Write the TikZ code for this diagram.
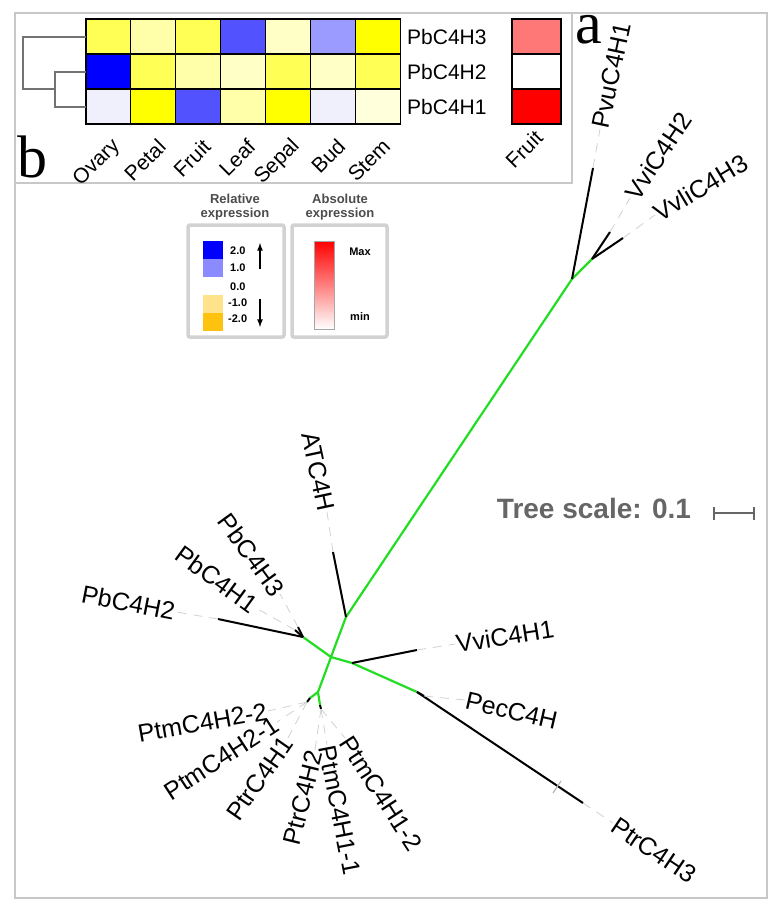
\documentclass[tikz,border=0pt]{standalone}
\usepackage{fontspec}
\setmainfont{Liberation Sans}
\newfontfamily\panelfont{Liberation Serif}
\usepackage{xcolor}

\definecolor{framegray}{HTML}{C8C8C8}
\definecolor{boxgray}{HTML}{D2D2D2}
\definecolor{treegreen}{HTML}{22DD22}
\definecolor{ylA}{HTML}{FFFF55}
\definecolor{ylB}{HTML}{FFFFAA}
\definecolor{ylC}{HTML}{FFFFC6}
\definecolor{ylD}{HTML}{FFFF00}
\definecolor{ylE}{HTML}{FFFFDC}
\definecolor{blA}{HTML}{0000FF}
\definecolor{blB}{HTML}{5252FF}
\definecolor{blC}{HTML}{9A9AFF}
\definecolor{blD}{HTML}{F0F0FC}
\definecolor{rdA}{HTML}{FF7878}
\definecolor{rdB}{HTML}{FF0000}
\definecolor{goldA}{HTML}{FFE38A}
\definecolor{goldB}{HTML}{FFC20E}

\begin{document}
\begin{tikzpicture}[x=1pt, y=-1pt, every node/.style={inner sep=0pt},
    leaf/.style={font=\fontsize{25}{25}\selectfont, inner sep=1pt},
    hlab/.style={font=\fontsize{21}{21}\selectfont},
    hot/.style={line width=2.2pt, treegreen},
    twig/.style={line width=2pt, black},
    guide/.style={line width=0.8pt, black!18, dash pattern=on 9pt off 7pt},
    legbox/.style={draw=boxgray, line width=3.5pt, rounded corners=2pt},
    legtxt/.style={font=\fontsize{13}{14}\selectfont\bfseries, text=black!70, align=center},
    tick/.style={font=\fontsize{11}{11}\selectfont\bfseries, anchor=west}]
\useasboundingbox (0,0) rectangle (784,914);

% frames
\draw[framegray, line width=2.5pt] (15,13) rectangle (767,898);
\draw[framegray, line width=2.5pt] (15,13) rectangle (572,183);

% panel b: heatmap
\foreach \r/\clist in {0/{ylA,ylB,ylA,blB,ylC,blC,ylD},
                       1/{blA,ylA,ylB,ylC,ylA,ylC,ylA},
                       2/{blD,ylD,blB,ylB,ylD,blD,ylE}}
  \foreach \cc [count=\c from 0] in \clist
    \filldraw[fill=\cc, draw=black, line width=1.1pt] ({86+44.9*\c},{19+35*\r}) rectangle ++(44.9,35);

\foreach \cc [count=\r from 0] in {rdA,white,rdB}
  \filldraw[fill=\cc, draw=black, line width=1.1pt] (512,{19+35*\r}) rectangle ++(49,35);

\node[hlab, anchor=west] (r3) at (407,37) {PbC4H3};
\node[hlab, anchor=west] (r2) at (407,72) {PbC4H2};
\node[hlab, anchor=west] (r1) at (407,107) {PbC4H1};

\foreach \t [count=\c from 0] in {Ovary,Petal,Fruit,Leaf,Sepal,Bud,Stem}
  \node[hlab, rotate=45, anchor=east] (col\c) at ({117+44.9*\c},143) {\t};
\node[hlab, rotate=45, anchor=east] (colF) at (539,134) {Fruit};

% dendrogram
\coordinate (h3) at (86,37);
\coordinate (h2) at (86,72);
\coordinate (h1) at (86,107);
\coordinate (d1) at (55,89);
\draw[black!55, line width=1.2pt] (h3) -- (23,37) -- (23,89) -- (d1);
\draw[black!55, line width=1.2pt] (h2) -- (55,72) -- (55,107) -- (h1);

\node[font=\panelfont\fontsize{60}{60}\selectfont, anchor=base west] (pb) at (17,177) {b};
\node[font=\panelfont\fontsize{60}{60}\selectfont, anchor=base west] (pa) at (575,43) {a};

% legends
\node[legtxt] (relt) at (235,207) {Relative\\expression};
\node[legtxt] (abst) at (340,207) {Absolute\\expression};
\draw[legbox] (188,225) rectangle (284,337);
\draw[legbox] (292,225) rectangle (387,337);

\fill[blA] (203,241) rectangle (223,259);
\fill[blC!90!blue] (203,259) rectangle (223,277);
\fill[white] (203,277) rectangle (223,295);
\fill[goldA] (203,295) rectangle (223,313);
\fill[goldB] (203,313) rectangle (223,331);
\node[tick] (v2) at (230,251) {2.0};
\node[tick] (v1) at (230,268) {1.0};
\node[tick] (v0) at (230,287) {0.0};
\node[tick] (vm1) at (228,303) {-1.0};
\node[tick] (vm2) at (228,319) {-2.0};
\draw[-latex, line width=1.6pt] (260,269) -- (260,243);
\draw[-latex, line width=1.6pt] (260,299) -- (260,327);

\shade[top color=red, bottom color=white] (314,241) rectangle (334,329);
\draw[black!35, line width=0.8pt] (314,241) rectangle (334,329);
\node[tick, anchor=center] (vmax) at (360,252) {Max};
\node[tick, anchor=center] (vmin) at (360,317) {min};

% panel a: tree
\coordinate (n0) at (331,657);
\coordinate (n1) at (346,617);
\coordinate (n2) at (572,279);
\coordinate (n3) at (592,259);
\coordinate (n4) at (303,637);
\coordinate (n5) at (352,663);
\coordinate (n6) at (417,692);
\coordinate (n7) at (318,692);
\coordinate (m1) at (310,698);
\coordinate (m2) at (320,705);

\draw[hot] (n4) -- (n0) -- (n1) -- (n2) -- (n3);
\draw[hot] (n0) -- (n5) -- (n6);
\draw[hot] (n0) -- (n7) -- (m1);
\draw[hot] (n7) -- (m2);

\coordinate (tPvu) at (593,168);
\coordinate (tVvi2) at (610,232);
\coordinate (tVvl3) at (623,238);
\coordinate (tAT) at (333,552);
\coordinate (tPb2) at (218,619);
\coordinate (tPb1) at (295,630);
\coordinate (tPb3) at (298,627);
\coordinate (tVvi1) at (417,650);
\coordinate (tPec) at (424,696);
\coordinate (tPtr3) at (583,803);
\coordinate (tL) at (307,702);
\coordinate (tR) at (321,709);

\draw[twig] (n2) -- (tPvu);
\draw[twig] (n3) -- (tVvi2);
\draw[twig] (n3) -- (tVvl3);
\draw[twig] (n1) -- (tAT);
\draw[twig] (n4) -- (tPb2);
\draw[twig] (n4) -- (tPb1);
\draw[twig] (n4) -- (tPb3);
\draw[twig] (n5) -- (tVvi1);
\draw[twig] (n6) -- (tPec);
\draw[twig] (n6) -- (tPtr3);
\draw[twig] (m1) -- (tL);
\draw[twig] (m2) -- (tR);
\draw[black!30, line width=1.2pt] (553,793) -- (561,781);

\node[leaf, rotate=78, anchor=west] (lPvu) at (600,129) {PvuC4H1};
\node[leaf, rotate=56, anchor=west] (lVvi2) at (630,198) {VviC4H2};
\node[leaf, rotate=31, anchor=west] (lVvl3) at (655,215) {VvliC4H3};
\node[leaf, rotate=-78, anchor=east] (lAT) at (327,512) {ATC4H};
\node[leaf, rotate=-54, anchor=east] (lPb3) at (280,594) {PbC4H3};
\node[leaf, rotate=-36, anchor=east] (lPb1) at (256,608) {PbC4H1};
\node[leaf, rotate=-11, anchor=east] (lPb2) at (176,612) {PbC4H2};
\node[leaf, rotate=9, anchor=west] (lVvi1) at (455,644) {VviC4H1};
\node[leaf, rotate=-13, anchor=west] (lPec) at (465,700) {PecC4H};
\node[leaf, rotate=-34, anchor=west] (lPtr3) at (613,823) {PtrC4H3};
\node[leaf, rotate=10, anchor=east] (lPtm22) at (268,711) {PtmC4H2-2};
\node[leaf, rotate=33, anchor=east] (lPtm21) at (277,722) {PtmC4H2-1};
\node[leaf, rotate=55, anchor=east] (lPtr1) at (288,738) {PtrC4H1};
\node[leaf, rotate=76, anchor=east] (lPtr2) at (315,750) {PtrC4H2};
\node[leaf, rotate=-79, anchor=west] (lPtm11) at (327,745) {PtmC4H1-1};
\node[leaf, rotate=-57, anchor=west] (lPtm12) at (345,738) {PtmC4H1-2};

\draw[guide] (tPvu) -- (lPvu.west);
\draw[guide] (tVvi2) -- (lVvi2.west);
\draw[guide] (tVvl3) -- (lVvl3.west);
\draw[guide] (tAT) -- (lAT.east);
\draw[guide] (tPb3) -- (lPb3.east);
\draw[guide] (tPb1) -- (lPb1.east);
\draw[guide] (tPb2) -- (lPb2.east);
\draw[guide] (tVvi1) -- (lVvi1.west);
\draw[guide] (tPec) -- (lPec.west);
\draw[guide] (tPtr3) -- (lPtr3.west);
\draw[guide] (tL) -- (lPtm22.east);
\draw[guide] (tL) -- (lPtm21.east);
\draw[guide] (tL) -- (lPtr1.east);
\draw[guide] (tR) -- (lPtr2.east);
\draw[guide] (tR) -- (lPtm11.west);
\draw[guide] (tR) -- (lPtm12.west);

% scale
\node[font=\fontsize{28}{28}\selectfont\bfseries, text=black!60] (scale) at (594,508) {Tree scale: 0.1};
\coordinate (sL) at (714,513);
\coordinate (sR) at (754,513);
\draw[black!60, line width=1.2pt] (sL) -- (sR);
\draw[black!60, line width=1.2pt] (714,507) -- (714,520);
\draw[black!60, line width=1.2pt] (754,507) -- (754,520);
\end{tikzpicture}
\end{document}
